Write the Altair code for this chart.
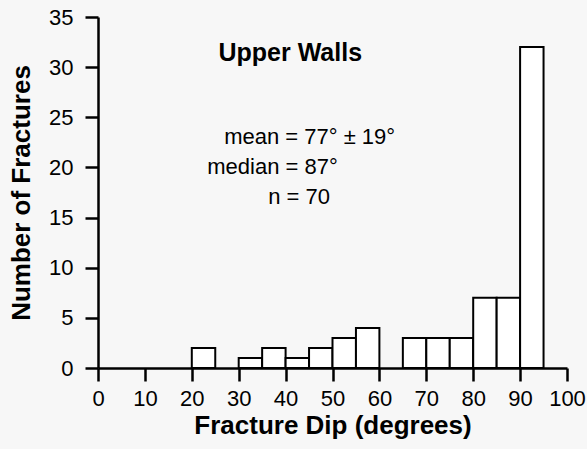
import altair as alt
import pandas as pd

bin_start = [0, 5, 10, 15, 20, 25, 30, 35, 40, 45, 50, 55, 60, 65, 70, 75, 80, 85, 90, 95]
counts = [0, 0, 0, 0, 2, 0, 1, 2, 1, 2, 3, 4, 0, 3, 3, 3, 7, 7, 32, 0]

ann_text = ["Upper Walls", "mean = 77° ± 19°", "median = 87°", "n = 70"]
ann_x = [41, 26.9, 23.3, 36.3]
ann_y = [31.4, 23.0, 20.0, 17.1]
ann_bold = [True, False, False, False]

df = pd.DataFrame({
    "start": bin_start,
    "end": [b + 5 for b in bin_start],
    "count": counts,
})
df = df[df["count"] > 0]

ann = pd.DataFrame({"text": ann_text, "x": ann_x, "y": ann_y, "bold": ann_bold})

FONT = "Liberation Sans"

xs = alt.Scale(domain=[0, 100], nice=False, zero=False)
ys = alt.Scale(domain=[0, 35], nice=False)

common = dict(domainColor="black", domainWidth=2.5, tickColor="black", tickWidth=2.5,
              tickSize=13, labelColor="black", titleColor="black",
              labelFont=FONT, titleFont=FONT, labelFontSize=22, titleFontSize=26,
              titleFontWeight="bold", grid=False)

bars = alt.Chart(df).mark_bar(fill="white", stroke="black", strokeWidth=2).encode(
    x=alt.X("start:Q", scale=xs,
            axis=alt.Axis(title="Fracture Dip (degrees)",
                          values=list(range(0, 101, 5)),
                          labelExpr="datum.value % 10 == 0 ? datum.label : ''",
                          labelFlush=False, labelOverlap=False, labelAngle=0,
                          labelPadding=7, titlePadding=3, **common)),
    x2="end:Q",
    y=alt.Y("count:Q", scale=ys,
            axis=alt.Axis(title="Number of Fractures",
                          values=list(range(0, 36, 5)),
                          labelPadding=12, titlePadding=14, **common)),
    y2=alt.datum(0),
)

bold_txt = alt.Chart(ann[ann["bold"]]).mark_text(
    font=FONT, fontSize=25, fontWeight="bold", align="center", baseline="middle", color="black"
).encode(x=alt.X("x:Q", scale=xs), y=alt.Y("y:Q", scale=ys), text="text:N")

reg_txt = alt.Chart(ann[~ann["bold"]]).mark_text(
    font=FONT, fontSize=22, align="left", baseline="middle", color="black"
).encode(x=alt.X("x:Q", scale=xs), y=alt.Y("y:Q", scale=ys), text="text:N")

chart = (bars + bold_txt + reg_txt).properties(
    width=469, height=351,
    autosize=alt.AutoSizeParams(type="none"),
    padding={"left": 98, "top": 17, "right": 20, "bottom": 81},
    background="#f7f7f7",
).configure_view(stroke=None)

chart.save("out.html", embed_options={"renderer": "svg", "actions": False})
